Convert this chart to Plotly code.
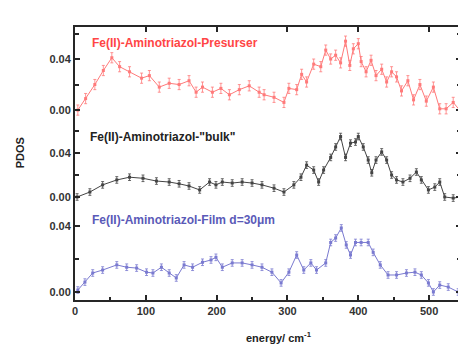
import plotly.graph_objects as go

# ---------------- data ----------------
red_E = [4, 15, 28, 40, 52, 63, 77, 94, 105, 119, 133, 147, 161, 171, 180, 194, 206, 218, 232, 246,
         260, 267, 281, 295, 302, 313, 320, 327, 337, 347, 354, 361, 368, 375, 382, 388, 393, 400, 404, 411,
         418, 425, 433, 440, 447, 454, 461, 470, 478, 487, 496, 506, 515, 524, 534, 543]
red_v = [0.000, 0.009, 0.020, 0.031, 0.041, 0.034, 0.030, 0.025, 0.027, 0.018, 0.021, 0.020, 0.023, 0.014,
         0.018, 0.014, 0.017, 0.012, 0.016, 0.019, 0.014, 0.012, 0.010, 0.006, 0.017, 0.016, 0.028, 0.022,
         0.036, 0.034, 0.047, 0.040, 0.043, 0.037, 0.054, 0.035, 0.048, 0.052, 0.038, 0.030, 0.039, 0.027,
         0.032, 0.022, 0.030, 0.026, 0.015, 0.023, 0.008, 0.020, 0.007, 0.018, 0.001, 0.001, 0.006, 0.000]
red_err = 0.004

black_E = [3, 21, 39, 59, 77, 96, 115, 133, 147, 161, 176, 190, 199, 208, 222, 236, 250, 264, 281, 295,
           309, 319, 327, 337, 344, 351, 361, 368, 375, 382, 389, 396, 400, 407, 414, 419, 425, 433, 440, 447,
           454, 463, 473, 482, 489, 499, 508, 515, 522, 534, 545]
black_v = [0.000, 0.0045, 0.011, 0.0155, 0.018, 0.017, 0.0145, 0.0136, 0.012, 0.010, 0.0064, 0.0136, 0.011,
           0.0136, 0.0127, 0.0136, 0.0127, 0.011, 0.008, 0.0045, 0.011, 0.018, 0.029, 0.0245, 0.0136, 0.0245,
           0.036, 0.0455, 0.055, 0.036, 0.049, 0.050, 0.055, 0.0455, 0.0336, 0.022, 0.0336, 0.041, 0.0336,
           0.020, 0.0155, 0.0136, 0.017, 0.0227, 0.0155, 0.0064, 0.009, 0.0136, 0.000, -0.001, 0.000]
black_err = 0.003

blue_E = [4, 14, 25, 39, 59, 73, 87, 101, 110, 122, 133, 143, 154, 166, 180, 192, 199, 208, 222, 236,
          250, 264, 278, 291, 302, 313, 323, 333, 341, 354, 361, 368, 376, 383, 389, 396, 404, 414, 421, 431,
          442, 454, 468, 480, 489, 499, 506, 515, 527, 541]
blue_v = [0.0012, 0.006, 0.0115, 0.0133, 0.0164, 0.015, 0.0145, 0.012, 0.0115, 0.015, 0.0115, 0.0085,
          0.0164, 0.015, 0.018, 0.0194, 0.021, 0.015, 0.0176, 0.0176, 0.0164, 0.015, 0.012, 0.0055, 0.012,
          0.0224, 0.0133, 0.0176, 0.0133, 0.0176, 0.030, 0.0327, 0.0388, 0.0285, 0.0224, 0.030, 0.030, 0.030,
          0.024, 0.0164, 0.0103, 0.0103, 0.0115, 0.012, 0.0103, 0.0055, 0.0, 0.0042, 0.003, 0.0]
blue_err = 0.002

labels = ["Fe(II)-Aminotriazol-Presurser", 'Fe(II)-Aminotriazol-"bulk"', "Fe(II)-Aminotriazol-Film d=30μm"]
x_ticks = [0, 100, 200, 300, 400, 500]
x_minor = [50, 150, 250, 350, 450]
x_top_ticks = [100, 200, 300, 400, 500]
y_ticks = [0, 0.04]
y_minor = [0.02, 0.06]
x_range = [0, 545]
y_ranges = [[-0.0055, 0.0651], [-0.0073, 0.0727], [-0.00485, 0.0527]]

# ---------------- figure ----------------
FONT = "Arial, Liberation Sans, sans-serif"
INK = "#262626"
fig = go.Figure()

series = [
    (red_E, red_v, red_err, "#ff7a7a", "x", "y"),
    (black_E, black_v, black_err, "#444444", "x2", "y2"),
    (blue_E, blue_v, blue_err, "#7a7ad0", "x3", "y3"),
]
for E, v, err, col, xa, ya in series:
    fig.add_trace(go.Scatter(
        x=E, y=v, xaxis=xa, yaxis=ya, mode="lines+markers",
        line=dict(color=col, width=1),
        marker=dict(symbol="square", size=3, color=col),
        error_y=dict(type="constant", value=err, color=col, thickness=0.8, width=1.5),
        showlegend=False,
    ))

tickfont = dict(family=FONT, size=11, color="#333333", weight="bold")
tk = dict(ticks="inside", ticklen=5, tickwidth=1.5, tickcolor=INK, showgrid=False,
          zeroline=False, showline=True, linecolor=INK, linewidth=2)
yminor = dict(tickvals=y_minor, ticks="inside", ticklen=4, tickwidth=1.5, tickcolor=INK)

fig.update_layout(
    width=458, height=338,
    margin=dict(l=67, r=3, t=19, b=46),
    paper_bgcolor="white", plot_bgcolor="white",
    xaxis=dict(range=x_range, domain=[0, 1], anchor="y", side="top", tickvals=x_top_ticks,
               showticklabels=False, **tk),
    xaxis2=dict(range=x_range, domain=[0, 1], anchor="y2", showticklabels=False, ticks="",
                showgrid=False, zeroline=False, showline=False),
    xaxis3=dict(range=x_range, domain=[0, 1], anchor="y3", tickvals=x_ticks, tickfont=tickfont,
                minor=dict(tickvals=x_minor, ticks="inside", ticklen=3, tickwidth=1.5, tickcolor=INK),
                **tk),
    yaxis=dict(domain=[0.670, 1.0], range=y_ranges[0], anchor="x", tickvals=y_ticks, tickformat=".2f",
               mirror="ticks", tickfont=tickfont, minor=yminor, **tk),
    yaxis2=dict(domain=[0.348, 0.670], range=y_ranges[1], anchor="x2", tickvals=y_ticks, tickformat=".2f",
                mirror="ticks", tickfont=tickfont, minor=yminor, **tk),
    yaxis3=dict(domain=[0.0, 0.348], range=y_ranges[2], anchor="x3", tickvals=y_ticks, tickformat=".2f",
                mirror="ticks", tickfont=tickfont, minor=yminor, **tk),
    annotations=[
        dict(text="<b>" + labels[0] + "</b>", xref="paper", yref="paper", x=0.038, y=0.941,
             xanchor="left", yanchor="middle", showarrow=False,
             font=dict(family=FONT, size=12, color="#ff4545")),
        dict(text="<b>" + labels[1] + "</b>", xref="paper", yref="paper", x=0.033, y=0.597,
             xanchor="left", yanchor="middle", showarrow=False,
             font=dict(family=FONT, size=12, color="#222222")),
        dict(text="<b>" + labels[2] + "</b>", xref="paper", yref="paper", x=0.038, y=0.293,
             xanchor="left", yanchor="middle", showarrow=False,
             font=dict(family=FONT, size=12, color="#5a5ab8")),
        dict(text="<b>PDOS</b>", xref="paper", yref="paper", x=-0.142, y=0.538, textangle=-90,
             xanchor="center", yanchor="middle", showarrow=False,
             font=dict(family=FONT, size=11, color="#222")),
        dict(text="<b>energy/ cm<sup>-1</sup></b>", xref="paper", yref="paper", x=0.528, y=-0.135,
             xanchor="center", yanchor="middle", showarrow=False,
             font=dict(family=FONT, size=11, color="#222")),
    ],
)

fig.write_html("out.html")
